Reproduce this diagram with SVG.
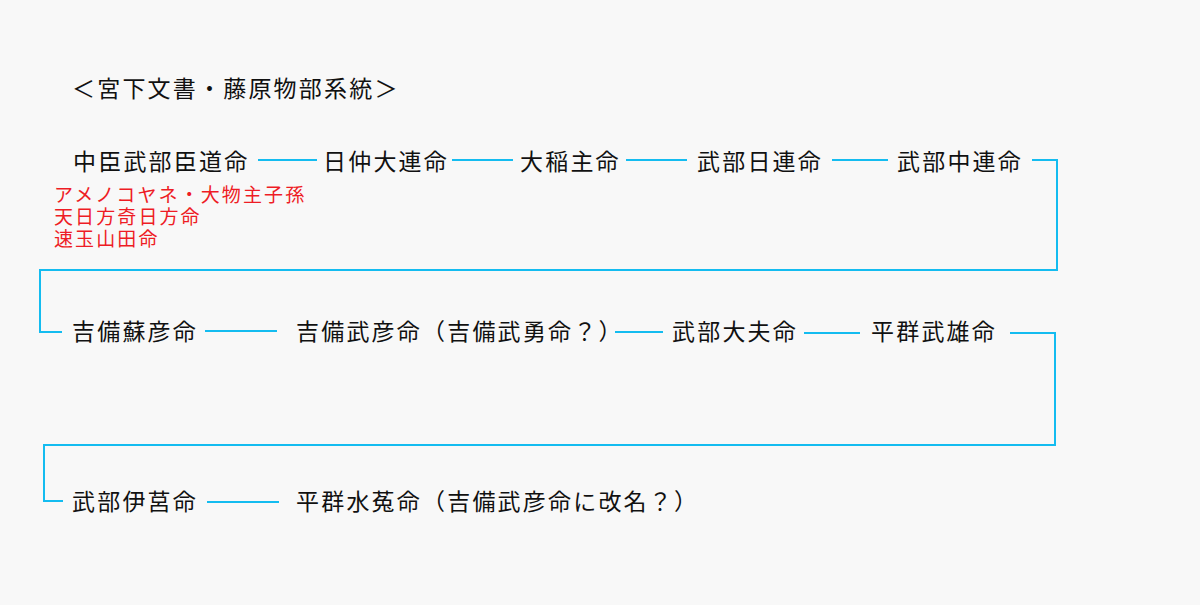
<svg xmlns="http://www.w3.org/2000/svg" width="1200" height="605" viewBox="0 0 1200 605">
<style>
.n{font-family:"Noto Sans CJK JP","Noto Sans CJK SC",sans-serif;font-size:23px;letter-spacing:2.2px;fill:#111;dominant-baseline:central}
.r{font-family:"Noto Sans CJK JP","Noto Sans CJK SC",sans-serif;font-size:19px;letter-spacing:2.1px;fill:#ee1c25;dominant-baseline:central}
.c{fill:none;stroke:#14bcf0;stroke-width:2}
</style>
<rect width="1200" height="605" fill="#f8f8f8"/>
<g id="title"><text class="n" x="72" y="87">＜宮下文書・藤原物部系統＞</text></g>
<g id="connectors">
<line class="c" x1="258" y1="160" x2="317" y2="160"/>
<line class="c" x1="452" y1="160" x2="513" y2="160"/>
<line class="c" x1="626" y1="160" x2="687" y2="160"/>
<line class="c" x1="832" y1="160" x2="888" y2="160"/>
<polyline class="c" points="1032,160 1057,160 1057,270 40,270 40,332 62,332"/>
<line class="c" x1="205" y1="331" x2="277" y2="331"/>
<line class="c" x1="615" y1="332" x2="663" y2="332"/>
<line class="c" x1="804" y1="333" x2="860" y2="333"/>
<polyline class="c" points="1010,333 1055,333 1055,445 44,445 44,501 63,501"/>
<line class="c" x1="207" y1="502" x2="279" y2="502"/>
</g>
<g id="n1"><text class="n" x="73" y="160">中臣武部臣道命</text>
<text class="r" x="54" y="193">アメノコヤネ・大物主子孫</text>
<text class="r" x="54" y="215">天日方奇日方命</text>
<text class="r" x="54" y="237">速玉山田命</text></g>
<g id="n2"><text class="n" x="323" y="160">日仲大連命</text></g>
<g id="n3"><text class="n" x="520" y="160">大稲主命</text></g>
<g id="n4"><text class="n" x="697" y="160">武部日連命</text></g>
<g id="n5"><text class="n" x="897" y="160">武部中連命</text></g>
<g id="n6"><text class="n" x="72" y="330">吉備蘇彦命</text></g>
<g id="n7"><text class="n" x="296" y="330">吉備武彦命（吉備武勇命？）</text></g>
<g id="n8"><text class="n" x="672" y="330">武部大夫命</text></g>
<g id="n9"><text class="n" x="871" y="330">平群武雄命</text></g>
<g id="n10"><text class="n" x="72" y="500">武部伊莒命</text></g>
<g id="n11"><text class="n" x="296" y="500">平群水菟命（吉備武彦命に改名？）</text></g>
</svg>
